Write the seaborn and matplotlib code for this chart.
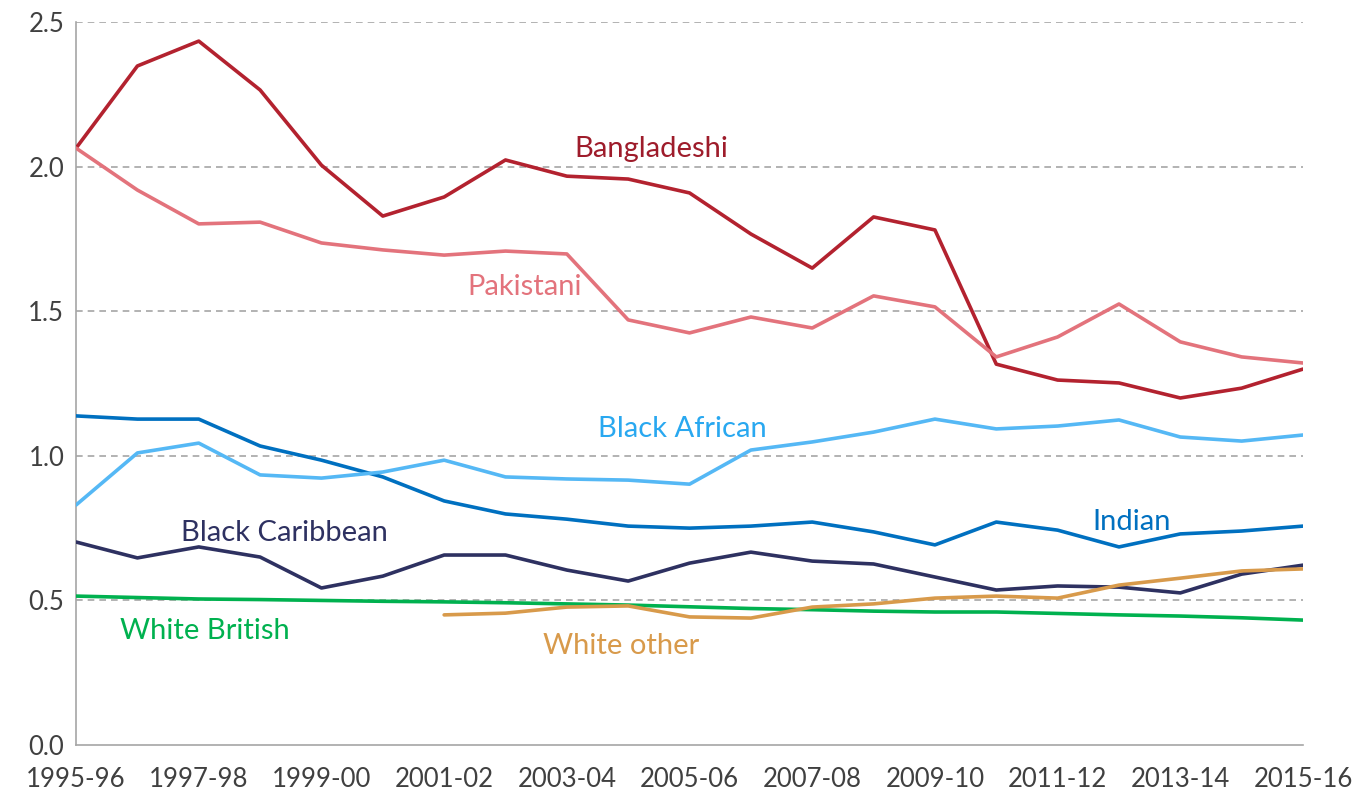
import numpy as np
import pandas as pd
import matplotlib.pyplot as plt
import seaborn as sns

years = ["1995-96", "1996-97", "1997-98", "1998-99", "1999-00", "2000-01", "2001-02",
         "2002-03", "2003-04", "2004-05", "2005-06", "2006-07", "2007-08", "2008-09",
         "2009-10", "2010-11", "2011-12", "2012-13", "2013-14", "2014-15", "2015-16"]

bangladeshi = [2.064, 2.348, 2.434, 2.265, 2.005, 1.829, 1.895, 2.023, 1.967, 1.957, 1.909,
               1.767, 1.649, 1.826, 1.781, 1.317, 1.262, 1.252, 1.200, 1.234, 1.300]
pakistani = [2.064, 1.919, 1.802, 1.808, 1.736, 1.712, 1.694, 1.708, 1.698, 1.470, 1.425,
             1.480, 1.442, 1.553, 1.515, 1.342, 1.411, 1.525, 1.394, 1.342, 1.321]
indian = [1.138, 1.127, 1.127, 1.034, 0.985, 0.927, 0.844, 0.799, 0.781, 0.757, 0.750,
          0.757, 0.771, 0.737, 0.692, 0.771, 0.743, 0.685, 0.730, 0.740, 0.757]
black_african = [0.830, 1.010, 1.044, 0.934, 0.923, 0.944, 0.985, 0.927, 0.920, 0.916, 0.902,
                 1.020, 1.048, 1.082, 1.127, 1.093, 1.103, 1.124, 1.065, 1.051, 1.072]
black_caribbean = [0.702, 0.647, 0.685, 0.650, 0.543, 0.584, 0.657, 0.657, 0.605, 0.567, 0.629,
                   0.667, 0.636, 0.626, 0.581, 0.536, 0.550, 0.546, 0.526, 0.591, 0.622]
white_british = [0.515, 0.510, 0.505, 0.503, 0.500, 0.497, 0.495, 0.492, 0.488, 0.484, 0.478,
                 0.472, 0.468, 0.463, 0.460, 0.460, 0.455, 0.450, 0.446, 0.440, 0.432]
white_other = [None, None, None, None, None, None, 0.450, 0.456, 0.477, 0.481, 0.443,
               0.439, 0.477, 0.488, 0.508, 0.515, 0.508, 0.553, 0.577, 0.602, 0.609]

series = {
    "Bangladeshi": bangladeshi,
    "Pakistani": pakistani,
    "Indian": indian,
    "Black African": black_african,
    "Black Caribbean": black_caribbean,
    "White British": white_british,
    "White other": white_other,
}
colors = {
    "Bangladeshi": "#B3222F",
    "Pakistani": "#E3737C",
    "Indian": "#0070C0",
    "Black African": "#55B8F5",
    "Black Caribbean": "#2E3161",
    "White British": "#00B14F",
    "White other": "#D89A4B",
}
# label anchors (x index, baseline y value, text colour)
labels = {
    "Bangladeshi": (9.38, 2.034, "#9E1C2B"),
    "Pakistani": (7.31, 1.556, "#E3737C"),
    "Black African": (9.89, 1.065, "#29A8F0"),
    "Indian": (17.2, 0.743, "#0070C0"),
    "Black Caribbean": (3.40, 0.707, "#2E3161"),
    "White British": (2.10, 0.367, "#00B14F"),
    "White other": (8.89, 0.315, "#D89A4B"),
}

rows = []
for name, vals in series.items():
    for i, v in enumerate(vals):
        if v is not None:
            rows.append({"idx": i, "value": v, "group": name})
df = pd.DataFrame(rows)

sns.set_style("white")
plt.rcParams["font.family"] = ["Lato", "DejaVu Sans"]

fig = plt.figure(figsize=(13.68, 7.92), dpi=100)
ax = fig.add_axes([0.0556, 0.0593, 0.8969, 0.9129])

sns.lineplot(data=df, x="idx", y="value", hue="group", palette=colors,
             linewidth=2.6, ax=ax, legend=False, zorder=3)

for name, (x, y, c) in labels.items():
    ax.text(x, y, name, color=c, fontsize=21, ha="center", va="baseline", zorder=4)

ax.set_xlim(0, 20)
ax.set_ylim(0, 2.5)
ax.set_xticks(range(21))
ax.set_xticklabels([y if i % 2 == 0 else "" for i, y in enumerate(years)])
ax.set_yticks([0, 0.5, 1.0, 1.5, 2.0, 2.5])
ax.set_yticklabels(["0.0", "0.5", "1.0", "1.5", "2.0", "2.5"])
ax.tick_params(axis="both", labelsize=18.5, colors="#404040", length=6,
               width=1, direction="out", color="#A6A6A6")
ax.tick_params(axis="x", pad=10)
ax.tick_params(axis="y", pad=2, length=6.5)
ax.set_xlabel("")
ax.set_ylabel("")

for y in [0.5, 1.0, 1.5, 2.0, 2.5]:
    ax.axhline(y, color="#A6A6A6", linestyle=(0, (4, 3)), linewidth=1.2, zorder=1)

for s in ["top", "right"]:
    ax.spines[s].set_visible(False)
for s in ["left", "bottom"]:
    ax.spines[s].set_color("#A6A6A6")
    ax.spines[s].set_linewidth(1.2)

fig.savefig("out.png", dpi=100)
